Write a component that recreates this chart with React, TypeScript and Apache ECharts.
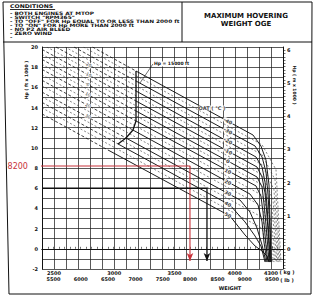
import React, { useEffect, useRef } from "react";
import * as echarts from "echarts";

const FONT = "DejaVu Sans";
const INK = "#111";
const RED = "#c8323a";

// Axis ranges: weight in kg, pressure altitude in ft x 1000
const weightKgRange = [2400, 4400];
const hpFtRange = [-2, 20];
const KG_TO_LB = 2.20462;
const FT_TO_M_K = 0.3048;

const kgTickLabels = [2500, 3000, 3500, 4000, 4300];
const lbTickLabels = [5500, 6000, 6500, 7000, 7500, 8000, 8500, 9000, 9500];
const mTickLabels = [0, 1, 2, 3, 4, 5, 6];

const conditionLines = [
  '- BOTH ENGINES AT MTOP',
  '- SWITCH "RPM365"',
  '- TO "OFF" FOR Hp EQUAL TO OR LESS THAN 2000 ft',
  '- TO "ON" FOR Hp MORE THAN 2000 ft',
  '- NO P2 AIR BLEED',
  '- ZERO WIND',
  '-',
];

const oatValues = [-40, -30, -20, -10, 0, 10, 20, 30, 40, 50];

// solid OAT curves [kg, Hp ft x 1000]
const oatSolid = [
  [[3180, 17.62], [4151, 11.28], [4217, 10.19], [4259, 8.8], [4284, 6.32], [4292, 2.86], [4300, -1.31]],
  [[3180, 16.63], [4168, 10.19], [4226, 9.1], [4259, 7.61], [4276, 5.33], [4292, 1.86], [4300, -1.31]],
  [[3180, 15.64], [4176, 9.1], [4226, 8.11], [4251, 6.62], [4267, 4.34], [4284, 0.87], [4292, -1.31]],
  [[3180, 14.65], [4184, 8.11], [4226, 7.12], [4251, 5.53], [4267, 3.35], [4284, 0.38], [4292, -1.31]],
  [[3180, 13.66], [4184, 7.12], [4226, 6.13], [4242, 4.54], [4259, 2.36], [4276, -0.12], [4284, -1.31]],
  [[3180, 12.67], [4176, 6.23], [4217, 5.23], [4234, 3.65], [4251, 1.37], [4267, -0.61], [4276, -1.31]],
  [[3155, 11.77], [4126, 5.43], [4193, 4.34], [4226, 2.66], [4242, 0.68], [4267, -1.31]],
  [[3097, 10.98], [4043, 4.84], [4126, 3.65], [4184, 2.06], [4226, 0.38], [4259, -1.31]],
  [[3031, 10.39], [3960, 4.34], [4085, 2.66], [4168, 1.27], [4217, 0.28], [4251, -1.31]],
  [[2948, 9.79], [3960, 3.25], [4085, 1.37], [4168, 0.28], [4226, -0.22], [4267, -0.71], [4284, -1.31]],
];

// dashed extension of each OAT line outside the envelope
const oatDashedExt = [
  [[2819, 20.0], [3180, 17.62]],
  [[2666, 20.0], [3180, 16.63]],
  [[2516, 20.0], [3180, 15.64]],
  [[2400, 19.76], [3180, 14.65]],
  [[2400, 18.77], [3180, 13.66]],
  [[2400, 17.78], [3180, 12.67]],
  [[2400, 16.7], [3155, 11.77]],
  [[2400, 15.53], [3097, 10.98]],
  [[2400, 14.51], [3031, 10.39]],
  [[2400, 13.37], [2948, 9.79]],
];

// intermediate dashed curves
const midDashed = [
  [[2744, 20.0], [4226, 10.32], [4342, 7.84], [4383, -1.31]],
  [[2591, 20.0], [4226, 9.33], [4334, 6.85], [4375, -1.31]],
  [[2440, 20.0], [4226, 8.34], [4325, 5.86], [4367, -1.31]],
  [[2400, 19.27], [4226, 7.35], [4317, 4.87], [4358, -1.31]],
  [[2400, 18.28], [4226, 6.35], [4309, 3.88], [4350, -1.31]],
  [[2400, 17.24], [4226, 5.31], [4300, 2.84], [4342, -1.31]],
  [[2400, 16.15], [4226, 4.22], [4292, 1.75], [4334, -1.31]],
  [[2400, 15.06], [4226, 3.13], [4284, 0.66], [4325, -1.31]],
  [[2400, 13.97], [4226, 2.04], [4276, -0.43], [4317, -1.31]],
];

const envelope = [[3180, 17.62], [3180, 12.67], [3155, 11.77], [3097, 10.98], [3031, 10.39]];

const oatLabelPos = [
  [3944, 12.66], [3944, 11.67], [3944, 10.68], [3944, 9.68], [3944, 8.69],
  [3944, 7.7], [3944, 6.61], [3944, 5.52], [3944, 4.45], [3944, 3.35],
];
const extLabelOat = [-20, -10, 0, 10, 20, 30];
const extLabelPos = [[2782, 18.27], [2782, 17.28], [2782, 16.28], [2782, 15.29], [2782, 14.2], [2782, 13.11]];

const oatTitlePos = [3811, 13.96];
const hpLimitNote = [[3321, 18.32], [3213, 16.43]];

const redHp = 8.2;
const redPath = [[2300, redHp], [3628, redHp], [3628, -1.2]];
const blackPath = [[2400, 6.0], [3769, 6.0], [3769, -1.2]];

const lbRuler = Array.from({ length: 45 }, (_, i) => 5300 + 100 * i);
const mRuler = Array.from({ length: 67 }, (_, i) => +(-0.6 + 0.1 * i).toFixed(1));

const txt = (extra: any = {}) => ({ fontFamily: FONT, color: INK, ...extra });

export default function App() {
  const ref = useRef<HTMLDivElement>(null);
  useEffect(() => {
    const chart = echarts.init(ref.current!, undefined, { renderer: "svg" });

    const lineSeries = (d: number[][], style: any, z = 3) => ({
      type: "line",
      data: d,
      symbol: "none",
      silent: true,
      animation: false,
      lineStyle: style,
      z,
    });

    const series: any[] = [
      ...midDashed.map((d) => lineSeries(d, { color: "#333", width: 0.6, type: [2, 2] }, 2)),
      ...oatDashedExt.map((d) => lineSeries(d, { color: INK, width: 0.8, type: [3, 2] }, 3)),
      ...oatSolid.map((d) => lineSeries(d, { color: INK, width: 0.95 }, 4)),
      lineSeries(envelope, { color: INK, width: 1.3 }, 4),
      {
        type: "scatter",
        silent: true,
        symbolSize: 1,
        itemStyle: { color: "transparent" },
        z: 6,
        data: oatLabelPos.map((p, i) => ({ value: p, label: { formatter: String(oatValues[i]) } })),
        label: {
          show: true,
          position: "inside",
          rotate: -29,
          ...txt({ fontSize: 5, fontWeight: "bold" }),
          backgroundColor: "#fff",
          padding: [0, 1],
        },
      },
      {
        type: "scatter",
        silent: true,
        symbolSize: 1,
        itemStyle: { color: "transparent" },
        z: 6,
        data: extLabelPos.map((p, i) => ({ value: p, label: { formatter: String(extLabelOat[i]) } })),
        label: {
          show: true,
          position: "inside",
          rotate: -29,
          ...txt({ fontSize: 4.5 }),
          backgroundColor: "#fff",
          padding: [0, 0.5],
        },
      },
      {
        type: "scatter",
        silent: true,
        symbolSize: 1,
        itemStyle: { color: "transparent" },
        z: 6,
        data: [{ value: oatTitlePos, label: { formatter: "OAT ( °C )" } }],
        label: { show: true, position: "inside", ...txt({ fontSize: 5, fontWeight: "bold" }), backgroundColor: "#fff" },
      },
      {
        type: "line",
        silent: true,
        symbol: "circle",
        symbolSize: 0,
        lineStyle: { color: INK, width: 0.6 },
        z: 6,
        data: [
          {
            value: hpLimitNote[0],
            label: {
              show: true,
              position: "right",
              distance: 1,
              formatter: "Hp = 15000 ft",
              ...txt({ fontSize: 4.5, fontWeight: "bold" }),
              backgroundColor: "#fff",
            },
          },
          { value: hpLimitNote[1] },
        ],
      },
      {
        type: "line",
        silent: true,
        clip: false,
        symbol: "circle",
        symbolSize: 0,
        lineStyle: { color: RED, width: 1.1 },
        itemStyle: { color: RED },
        z: 8,
        data: [
          {
            value: redPath[0],
            label: {
              show: true,
              position: "left",
              distance: 2,
              formatter: "8200",
              fontFamily: "DejaVu Sans",
              fontSize: 8,
              color: RED,
            },
          },
          { value: redPath[1] },
          { value: redPath[2], symbol: "arrow", symbolSize: [5, 8], symbolRotate: 180 },
        ],
      },
      {
        type: "line",
        silent: true,
        symbol: "circle",
        symbolSize: 0,
        lineStyle: { color: INK, width: 1.3 },
        itemStyle: { color: INK },
        z: 8,
        data: [
          { value: blackPath[0] },
          { value: blackPath[1] },
          { value: blackPath[2], symbol: "arrow", symbolSize: [5, 8], symbolRotate: 180 },
        ],
      },
    ];

    const graphicText = (x: number, y: number, text: string, style: any = {}, extra: any = {}) => ({
      type: "text",
      x,
      y,
      silent: true,
      style: { text, fill: INK, fontFamily: FONT, fontSize: 5, fontWeight: "bold", verticalAlign: "middle", ...style },
      ...extra,
    });
    const gLine = (x1: number, y1: number, x2: number, y2: number, w = 1) => ({
      type: "line",
      silent: true,
      shape: { x1, y1, x2, y2 },
      style: { stroke: INK, lineWidth: w },
    });

    chart.setOption({
      animation: false,
      backgroundColor: "#fff",
      textStyle: { fontFamily: FONT },
      grid: { left: 42, top: 47, right: 37, bottom: 28, containLabel: false, outerBoundsMode: "none" },
      xAxis: [
        {
          type: "value",
          min: weightKgRange[0],
          max: weightKgRange[1],
          interval: 100,
          position: "bottom",
          axisLine: { show: true, lineStyle: { color: INK, width: 1 } },
          axisTick: { show: false },
          splitLine: { show: true, lineStyle: { color: "#222", width: 0.75 } },
          axisLabel: {
            show: true,
            margin: 1.5,
            formatter: (v: number) => (kgTickLabels.includes(v) ? String(v) : ""),
            ...txt({ fontSize: 5, fontWeight: "bold" }),
          },
        },
        {
          type: "value",
          min: weightKgRange[0] * KG_TO_LB,
          max: weightKgRange[1] * KG_TO_LB,
          position: "bottom",
          offset: 5,
          axisLine: { show: true, lineStyle: { color: INK, width: 0.8 } },
          axisTick: { show: true, inside: true, length: 2, customValues: lbRuler, lineStyle: { color: INK, width: 0.6 } },
          splitLine: { show: false },
          axisLabel: {
            show: true,
            margin: 2,
            customValues: lbTickLabels,
            formatter: (v: number) => String(Math.round(v)),
            ...txt({ fontSize: 5, fontWeight: "bold" }),
          },
        },
      ],
      yAxis: [
        {
          type: "value",
          min: hpFtRange[0],
          max: hpFtRange[1],
          interval: 1,
          position: "left",
          axisLine: { show: true, lineStyle: { color: INK, width: 1 } },
          axisTick: { show: false },
          splitLine: { show: true, lineStyle: { color: "#222", width: 0.75 } },
          axisLabel: {
            show: true,
            margin: 4,
            formatter: (v: number) => (v % 2 === 0 ? String(v) : ""),
            ...txt({ fontSize: 5, fontWeight: "bold" }),
          },
        },
        {
          type: "value",
          min: hpFtRange[0] * FT_TO_M_K,
          max: hpFtRange[1] * FT_TO_M_K,
          position: "right",
          axisLine: { show: true, lineStyle: { color: INK, width: 1 } },
          axisTick: { show: true, length: 2.5, customValues: mRuler, lineStyle: { color: INK, width: 0.6 } },
          splitLine: { show: false },
          axisLabel: {
            show: true,
            margin: 4,
            customValues: mTickLabels,
            formatter: (v: number) => String(Math.round(v)),
            ...txt({ fontSize: 5, fontWeight: "bold" }),
          },
        },
      ],
      series,
      graphic: [
        // frame
        gLine(3, 2, 312, 2),
        gLine(3, 2, 9, 294),
        gLine(312, 2, 311, 294),
        gLine(9, 294, 311, 294),
        gLine(3, 42, 312, 42),
        gLine(182, 2, 182, 42),
        // conditions block (stretched horizontally like the scanned original)
        {
          type: "group",
          x: 10,
          y: 0,
          scaleX: 1.22,
          children: [graphicText(0, 6, "CONDITIONS", { fontSize: 5 }), gLine(0, 9.5, 37, 9.5, 0.8)],
        },
        {
          type: "group",
          x: 10,
          y: 0,
          scaleX: 1.26,
          children: [
            graphicText(0, 11, conditionLines.join("\n"), { fontSize: 4.6, lineHeight: 4.1, verticalAlign: "top" }),
          ],
        },
        // title
        graphicText(246, 16, "MAXIMUM HOVERING", { fontSize: 7, align: "center" }),
        graphicText(246, 24, "WEIGHT OGE", { fontSize: 7, align: "center" }),
        // axis titles
        graphicText(26, 80, "Hp ( ft x 1000 )", { fontSize: 4.5, align: "center" }, { rotation: Math.PI / 2 }),
        graphicText(294, 85, "Hp ( m x 1000 )", { fontSize: 4.5, align: "center" }, { rotation: -Math.PI / 2 }),
        graphicText(287, 271.5, "( kg )", { fontSize: 5, align: "center" }),
        graphicText(287, 279.5, "( lb )", { fontSize: 5, align: "center" }),
        graphicText(230, 288, "WEIGHT", { fontSize: 5, align: "center" }),
      ],
    });
    return () => chart.dispose();
  }, []);
  return <div ref={ref} style={{ position: "absolute", left: 0, top: 0, width: 320, height: 297 }} />;
}
